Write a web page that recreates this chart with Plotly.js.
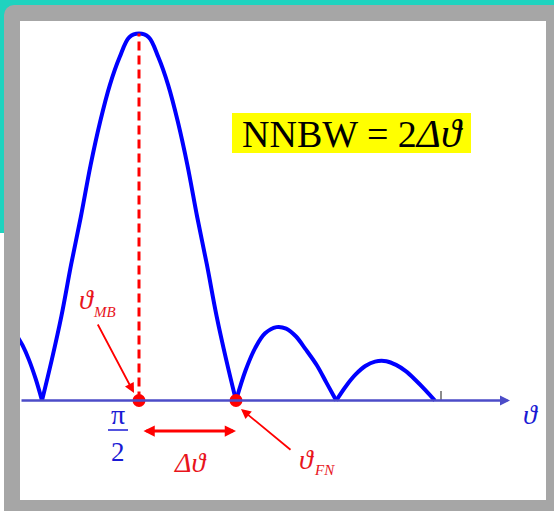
<!DOCTYPE html>
<html>
<head>
<meta charset="utf-8">
<script src="https://cdn.plot.ly/plotly-3.0.1.min.js"></script>
<style>
  html, body { margin: 0; padding: 0; background: #ffffff; }
  #wrap { position: relative; width: 554px; height: 511px; overflow: hidden; }
  #teal { position: absolute; left: 0; top: 0; width: 554px; height: 233px; background: #1fd3bf; }
  #gray { position: absolute; left: 4px; top: 5px; width: 550px; height: 506px; background: #a6a6a6; border-top-left-radius: 10px; }
  #chart { position: absolute; left: 0; top: 0; width: 554px; height: 511px; }
</style>
</head>
<body>
<div id="wrap">
  <div id="teal"></div>
  <div id="gray"></div>
  <div id="chart"></div>
</div>
<script>
// ---- data (theta in degrees, normalised pattern value) ----
const thetaLeftLobe = [52, 54, 56, 58, 60];
const rLeftLobe     = [0.18, 0.15, 0.11, 0.06, 0];

const thetaMainLobe = [60, 63, 66, 69, 72, 75, 78, 81, 84, 87, 90, 93, 96, 99, 102, 105, 108, 111, 114, 117, 120];
const rMainLobe     = [0, 0.11, 0.23, 0.37, 0.50, 0.64, 0.76, 0.86, 0.935, 0.99, 1.0, 0.99, 0.935, 0.86, 0.76, 0.64, 0.50, 0.37, 0.23, 0.11, 0];

const thetaSideLobe1 = [120, 123, 126, 129, 132.5, 135.5, 138.5, 141.5, 145, 148, 151];
const rSideLobe1     = [0, 0.083, 0.144, 0.183, 0.200, 0.196, 0.175, 0.140, 0.096, 0.048, 0];

const thetaSideLobe2 = [151, 154, 157, 160, 163, 166.5, 169.5, 172.5, 175.5, 178.5, 181.5];
const rSideLobe2     = [0, 0.039, 0.071, 0.094, 0.106, 0.107, 0.097, 0.080, 0.056, 0.029, 0];

const thetaMainBeam  = 90;    // ϑ_MB  (π/2)
const thetaFirstNull = 120;   // ϑ_FN
const peakValue      = 1.0;

const labelMB   = ['ϑ', 'MB'];
const labelFN   = ['ϑ', 'FN'];
const labelPi   = ['π', '2'];
const labelAxis = 'ϑ';
const labelDelta = 'Δϑ';
const labelNNBW = 'NNBW = 2<span style="font-size:41px"><i>Δϑ</i></span>';

// ---- axis geometry helpers (pixel -> data for labels/decor) ----
const kx = 97 / 30;
const x0 = 90 - 119 / kx;
const x1 = x0 + 526 / kx;
const ky = 367;
const yTop = (400.5 - 21) / ky;
const yBot = -(500 - 400.5) / ky;
const X = px => x0 + (px - 20) / kx;
const Y = py => (400.5 - py) / ky;

const BLUE = '#0000ff';
const AXBLUE = '#4c4cc8';
const TXTBLUE = '#1a1ad4';
const RED = '#ff0000';
const TXTRED = '#e8141c';
const SERIF = '"Liberation Serif", "DejaVu Serif", serif';

const lobe = (x, y) => ({
  x: x, y: y, type: 'scatter', mode: 'lines',
  line: { color: BLUE, width: 4, shape: 'spline', smoothing: 1 },
  hoverinfo: 'skip', cliponaxis: true
});

const traces = [
  lobe(thetaLeftLobe, rLeftLobe),
  lobe(thetaMainLobe, rMainLobe),
  lobe(thetaSideLobe1, rSideLobe1),
  lobe(thetaSideLobe2, rSideLobe2),
  {
    x: [thetaMainBeam, thetaMainBeam], y: [0, peakValue], type: 'scatter', mode: 'lines',
    line: { color: RED, width: 3, dash: '9px,5px' }, hoverinfo: 'skip'
  },
  {
    x: [thetaMainBeam, thetaFirstNull], y: [0, 0], type: 'scatter', mode: 'markers',
    marker: { color: RED, size: 13 }, hoverinfo: 'skip', cliponaxis: false
  }
];

function txt(text, px, py, size, color, italic) {
  return {
    x: X(px), y: Y(py), xref: 'x', yref: 'y', showarrow: false,
    text: italic ? '<i>' + text + '</i>' : text,
    font: { family: SERIF, size: size, color: color },
    xanchor: 'center', yanchor: 'middle'
  };
}
function arrow(tx, ty, hx, hy, color, width, size, side) {
  return {
    x: hx, y: hy, ax: tx, ay: ty, xref: 'x', yref: 'y', axref: 'x', ayref: 'y',
    text: '', showarrow: true, arrowhead: 2, arrowsize: size, arrowwidth: width,
    arrowcolor: color, arrowside: side || 'end', standoff: 0, startstandoff: 0
  };
}

const annotations = [
  // axis arrow
  arrow(X(20), 0, X(510), 0, AXBLUE, 2.5, 0.8),
  txt(labelAxis, 530, 414, 28, TXTBLUE, true),
  // NNBW
  txt(labelNNBW, 352, 133, 38, '#000000', false),
  // theta MB
  txt(labelMB[0], 86, 299, 28, TXTRED, true),
  txt(labelMB[1], 104, 312, 15, TXTRED, true),
  arrow(X(97), Y(323), X(134), Y(393), RED, 1.8, 1.1),
  // pi/2
  txt(labelPi[0], 118, 414, 28, TXTBLUE, false),
  txt(labelPi[1], 118, 452, 27, TXTBLUE, false),
  // delta arrow + label
  arrow(X(142), Y(431), thetaFirstNull, Y(431), RED, 3, 0.75, 'end+start'),
  txt(labelDelta, 190, 462, 28, TXTRED, true),
  // theta FN
  txt(labelFN[0], 306, 459, 28, TXTRED, true),
  txt(labelFN[1], 324, 470, 15, TXTRED, true),
  arrow(X(292), Y(451), X(241), Y(409), RED, 1.8, 1.1)
];

const shapes = [
  { type: 'rect', xref: 'x', yref: 'y', x0: X(232), x1: X(471), y0: Y(153), y1: Y(113),
    fillcolor: '#ffff00', line: { width: 0 }, layer: 'below' },
  { type: 'line', xref: 'x', yref: 'y', x0: X(108), x1: X(128), y0: Y(430), y1: Y(430),
    line: { color: TXTBLUE, width: 1.5 } },
  { type: 'line', xref: 'x', yref: 'y', x0: X(441), x1: X(441), y0: Y(391), y1: Y(400),
    line: { color: '#666666', width: 1.5 } }
];

const layout = {
  width: 554, height: 511,
  margin: { l: 20, r: 8, t: 21, b: 11, pad: 0 },
  paper_bgcolor: 'rgba(0,0,0,0)',
  plot_bgcolor: '#ffffff',
  showlegend: false,
  xaxis: { range: [x0, x1], visible: false, fixedrange: true },
  yaxis: { range: [yBot, yTop], visible: false, fixedrange: true },
  annotations: annotations,
  shapes: shapes
};

Plotly.newPlot('chart', traces, layout, { staticPlot: true, displayModeBar: false });
</script>
</body>
</html>
